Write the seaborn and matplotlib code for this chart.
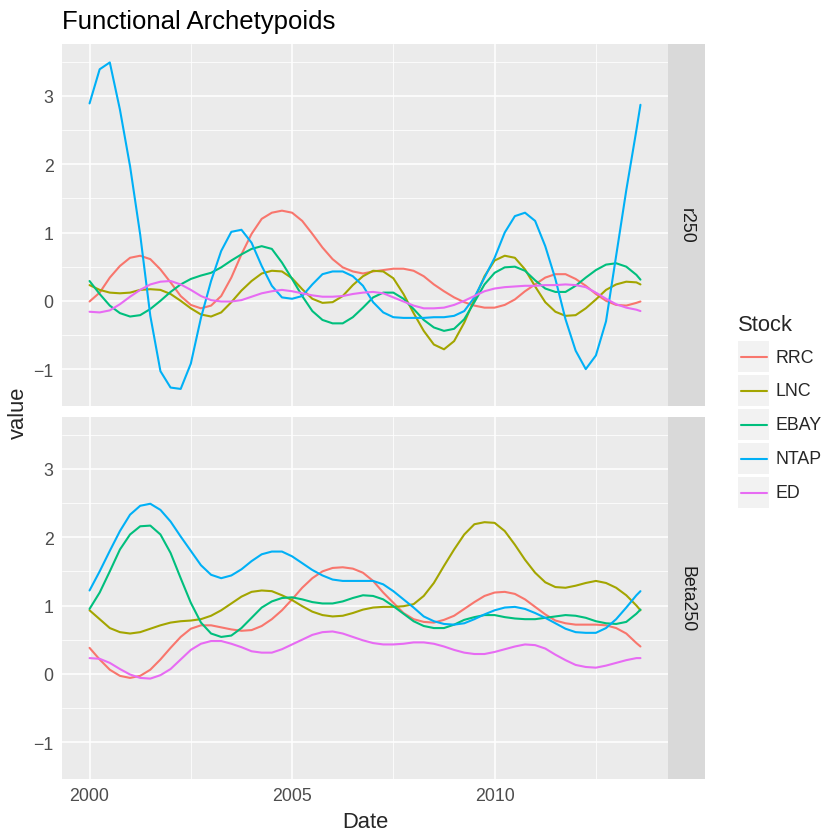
import numpy as np
import pandas as pd
import seaborn as sns
import matplotlib.pyplot as plt
from matplotlib.patches import Rectangle
from matplotlib.ticker import FixedLocator

# sampling grid (years), read every quarter year off the picture
dates = [2000 + 0.25 * i for i in range(55)] + [2013.6]

stocks = ["RRC", "LNC", "EBAY", "NTAP", "ED"]
colores = ["#F8766D", "#A3A500", "#00BF7D", "#00B0F6", "#E76BF3"]
paneles = ["r250", "Beta250"]

# panel r250
r250_rrc = [-0.01, 0.12, 0.34, 0.51, 0.63, 0.66, 0.61, 0.46, 0.27, 0.07,
            -0.06, -0.11, -0.07, 0.07, 0.34, 0.68, 0.98, 1.20, 1.29, 1.32,
            1.29, 1.17, 0.98, 0.78, 0.61, 0.49, 0.43, 0.40, 0.43, 0.45,
            0.47, 0.47, 0.44, 0.36, 0.24, 0.14, 0.05, -0.02, -0.07, -0.10,
            -0.10, -0.06, 0.02, 0.14, 0.24, 0.34, 0.39, 0.39, 0.32, 0.22,
            0.10, 0.0, -0.06, -0.07, -0.03, -0.01]
r250_lnc = [0.23, 0.16, 0.12, 0.11, 0.12, 0.16, 0.17, 0.16, 0.10, 0.0,
            -0.11, -0.20, -0.23, -0.17, -0.02, 0.15, 0.29, 0.40, 0.44, 0.43,
            0.33, 0.17, 0.03, -0.03, -0.02, 0.07, 0.23, 0.36, 0.44, 0.43,
            0.33, 0.10, -0.18, -0.44, -0.64, -0.71, -0.59, -0.32, 0.02, 0.36,
            0.59, 0.66, 0.63, 0.46, 0.21, -0.02, -0.16, -0.22, -0.21, -0.11,
            0.02, 0.16, 0.24, 0.28, 0.27, 0.24]
r250_ebay = [0.29, 0.10, -0.07, -0.18, -0.23, -0.21, -0.12, 0.0, 0.13, 0.24,
             0.32, 0.37, 0.41, 0.49, 0.59, 0.68, 0.76, 0.80, 0.76, 0.56,
             0.32, 0.07, -0.15, -0.28, -0.33, -0.33, -0.24, -0.10, 0.05, 0.12,
             0.12, 0.03, -0.12, -0.28, -0.39, -0.44, -0.41, -0.27, -0.02, 0.24,
             0.41, 0.49, 0.50, 0.44, 0.30, 0.18, 0.13, 0.13, 0.22, 0.34,
             0.45, 0.53, 0.55, 0.50, 0.38, 0.31]
r250_ntap = [2.89, 3.39, 3.49, 2.80, 1.97, 0.97, -0.22, -1.03, -1.27, -1.29,
             -0.92, -0.25, 0.29, 0.73, 1.01, 1.04, 0.85, 0.51, 0.22, 0.05,
             0.03, 0.07, 0.24, 0.39, 0.43, 0.43, 0.36, 0.22, -0.02, -0.17,
             -0.24, -0.25, -0.25, -0.25, -0.24, -0.24, -0.22, -0.15, 0.05, 0.34,
             0.63, 1.0, 1.24, 1.29, 1.17, 0.80, 0.32, -0.27, -0.73, -1.0,
             -0.80, -0.30, 0.66, 1.62, 2.50, 2.87]
r250_ed = [-0.16, -0.17, -0.14, -0.05, 0.06, 0.16, 0.24, 0.28, 0.29, 0.24,
           0.16, 0.07, 0.01, -0.01, -0.01, 0.01, 0.06, 0.11, 0.14, 0.16,
           0.14, 0.11, 0.08, 0.06, 0.06, 0.07, 0.10, 0.12, 0.13, 0.11,
           0.05, -0.01, -0.07, -0.11, -0.11, -0.10, -0.06, 0.0, 0.07, 0.14,
           0.18, 0.20, 0.21, 0.22, 0.22, 0.23, 0.23, 0.24, 0.23, 0.20,
           0.12, 0.03, -0.05, -0.10, -0.13, -0.15]

# panel Beta250
beta_rrc = [0.38, 0.21, 0.06, -0.03, -0.06, -0.03, 0.06, 0.21, 0.38, 0.54,
            0.66, 0.71, 0.71, 0.68, 0.65, 0.63, 0.64, 0.70, 0.80, 0.93,
            1.09, 1.26, 1.40, 1.50, 1.55, 1.56, 1.54, 1.48, 1.36, 1.19,
            1.04, 0.89, 0.80, 0.76, 0.75, 0.79, 0.85, 0.95, 1.05, 1.14,
            1.19, 1.20, 1.17, 1.09, 0.98, 0.87, 0.78, 0.74, 0.72, 0.72,
            0.72, 0.71, 0.67, 0.59, 0.45, 0.40]
beta_lnc = [0.93, 0.80, 0.67, 0.61, 0.59, 0.61, 0.66, 0.71, 0.75, 0.77,
            0.78, 0.80, 0.85, 0.93, 1.03, 1.13, 1.20, 1.22, 1.21, 1.15,
            1.08, 0.99, 0.91, 0.86, 0.84, 0.85, 0.89, 0.94, 0.97, 0.98,
            0.98, 0.99, 1.02, 1.14, 1.33, 1.58, 1.82, 2.04, 2.19, 2.22,
            2.21, 2.09, 1.89, 1.67, 1.48, 1.34, 1.27, 1.26, 1.29, 1.33,
            1.36, 1.33, 1.26, 1.15, 1.00, 0.93]
beta_ebay = [0.95, 1.19, 1.50, 1.82, 2.04, 2.16, 2.17, 2.04, 1.77, 1.40,
             1.04, 0.75, 0.59, 0.54, 0.56, 0.67, 0.82, 0.97, 1.06, 1.11,
             1.12, 1.09, 1.05, 1.03, 1.03, 1.06, 1.11, 1.15, 1.14, 1.09,
             0.99, 0.88, 0.77, 0.70, 0.67, 0.67, 0.72, 0.79, 0.83, 0.86,
             0.86, 0.83, 0.81, 0.80, 0.80, 0.82, 0.84, 0.86, 0.85, 0.82,
             0.77, 0.74, 0.73, 0.76, 0.88, 0.94]
beta_ntap = [1.22, 1.50, 1.80, 2.09, 2.33, 2.46, 2.49, 2.40, 2.23, 2.01,
             1.80, 1.59, 1.45, 1.40, 1.44, 1.53, 1.65, 1.75, 1.79, 1.79,
             1.72, 1.62, 1.52, 1.44, 1.38, 1.36, 1.36, 1.36, 1.36, 1.31,
             1.21, 1.09, 0.97, 0.84, 0.77, 0.73, 0.72, 0.74, 0.80, 0.87,
             0.93, 0.97, 0.98, 0.95, 0.89, 0.82, 0.74, 0.66, 0.61, 0.60,
             0.60, 0.67, 0.80, 0.97, 1.15, 1.21]
beta_ed = [0.23, 0.22, 0.16, 0.07, -0.01, -0.06, -0.07, -0.02, 0.07, 0.21,
           0.35, 0.44, 0.48, 0.48, 0.44, 0.39, 0.33, 0.31, 0.31, 0.36,
           0.43, 0.50, 0.57, 0.61, 0.62, 0.59, 0.54, 0.49, 0.45, 0.43,
           0.43, 0.44, 0.46, 0.46, 0.44, 0.40, 0.35, 0.31, 0.29, 0.29,
           0.32, 0.36, 0.40, 0.43, 0.42, 0.37, 0.28, 0.20, 0.13, 0.10,
           0.09, 0.12, 0.16, 0.20, 0.23, 0.23]

series = {
    "r250": [r250_rrc, r250_lnc, r250_ebay, r250_ntap, r250_ed],
    "Beta250": [beta_rrc, beta_lnc, beta_ebay, beta_ntap, beta_ed],
}

filas = []
for panel in paneles:
    for stock, vals in zip(stocks, series[panel]):
        for d, v in zip(dates, vals):
            filas.append({"panel": panel, "Stock": stock, "Date": d, "value": v})
df = pd.DataFrame(filas)

sns.set_style("darkgrid", {"axes.facecolor": "#EBEBEB", "grid.color": "white"})
plt.rcParams["font.family"] = ["Liberation Sans", "DejaVu Sans"]

W, H = 822, 837
fig = plt.figure(figsize=(W / 100, H / 100), dpi=100)

def caja(x0, y0, x1, y1):
    # pixel box -> figure fraction
    return [x0 / W, 1 - y1 / H, (x1 - x0) / W, (y1 - y0) / H]

paneles_px = {"r250": (45, 407), "Beta250": (418, 780)}
rng = max(dates) - min(dates)
xlim = (min(dates) - 0.05 * rng, max(dates) + 0.05 * rng)

for panel in paneles:
    y0, y1 = paneles_px[panel]
    ax = fig.add_axes(caja(62, y0, 668, y1))
    sub = df[df["panel"] == panel]
    sns.lineplot(data=sub, x="Date", y="value", hue="Stock", hue_order=stocks,
                 palette=colores, estimator=None, sort=False, legend=False,
                 linewidth=1.5, ax=ax)
    ax.set_xlim(*xlim)
    ax.set_ylim(-1.54, 3.76)
    ax.xaxis.set_major_locator(FixedLocator([2000, 2005, 2010]))
    ax.xaxis.set_minor_locator(FixedLocator([2002.5, 2007.5, 2012.5]))
    ax.yaxis.set_major_locator(FixedLocator([-1, 0, 1, 2, 3]))
    ax.yaxis.set_minor_locator(FixedLocator([-0.5, 0.5, 1.5, 2.5, 3.5]))
    ax.grid(which="major", color="white", linewidth=1.1)
    ax.grid(which="minor", color="white", linewidth=0.55)
    ax.set_axisbelow(True)
    for s in ax.spines.values():
        s.set_visible(False)
    ax.set_xlabel("")
    ax.set_ylabel("")
    ax.tick_params(which="major", length=3.5, width=0.8, color="#333333",
                   labelsize=12.8, labelcolor="#4D4D4D", pad=2.5)
    ax.tick_params(which="minor", length=0)
    ax.set_xticklabels(["2000", "2005", "2010"])
    ax.set_yticklabels(["\u22121", "0", "1", "2", "3"])
    if panel == "r250":
        ax.tick_params(axis="x", which="major", length=0, labelbottom=False)

    # strip a la derecha
    st = fig.add_axes(caja(668, y0, 705, y1))
    st.set_facecolor("#D9D9D9")
    st.set_xticks([])
    st.set_yticks([])
    st.grid(False)
    for s in st.spines.values():
        s.set_visible(False)
    st.text(0.5, 0.5, panel, rotation=-90, ha="center", va="center",
            fontsize=12.8, color="#1A1A1A", transform=st.transAxes)

fig.text(62 / W, 1 - 29 / H, "Functional Archetypoids", fontsize=18.5,
         ha="left", va="baseline", color="black")
fig.text(18 / W, 1 - 412.5 / H, "value", rotation=90, fontsize=15.8,
         ha="center", va="center")
fig.text(365 / W, 1 - 823 / H, "Date", fontsize=15.8, ha="center", va="center")

# leyenda estilo ggplot
leg = fig.add_axes([0, 0, 1, 1], facecolor="none")
leg.set_xlim(0, W)
leg.set_ylim(H, 0)
leg.axis("off")
leg.text(738, 325, "Stock", fontsize=15.8, ha="left", va="center")
for i, (stock, c) in enumerate(zip(stocks, colores)):
    top = 342 + 34 * i
    leg.add_patch(Rectangle((738, top), 31, 31, facecolor="#F2F2F2",
                            edgecolor="none"))
    leg.plot([741, 767], [top + 15.5, top + 15.5], color=c, linewidth=1.5)
    leg.text(775, top + 16, stock, fontsize=12.8, ha="left", va="center")

fig.savefig("out.png", dpi=100)
